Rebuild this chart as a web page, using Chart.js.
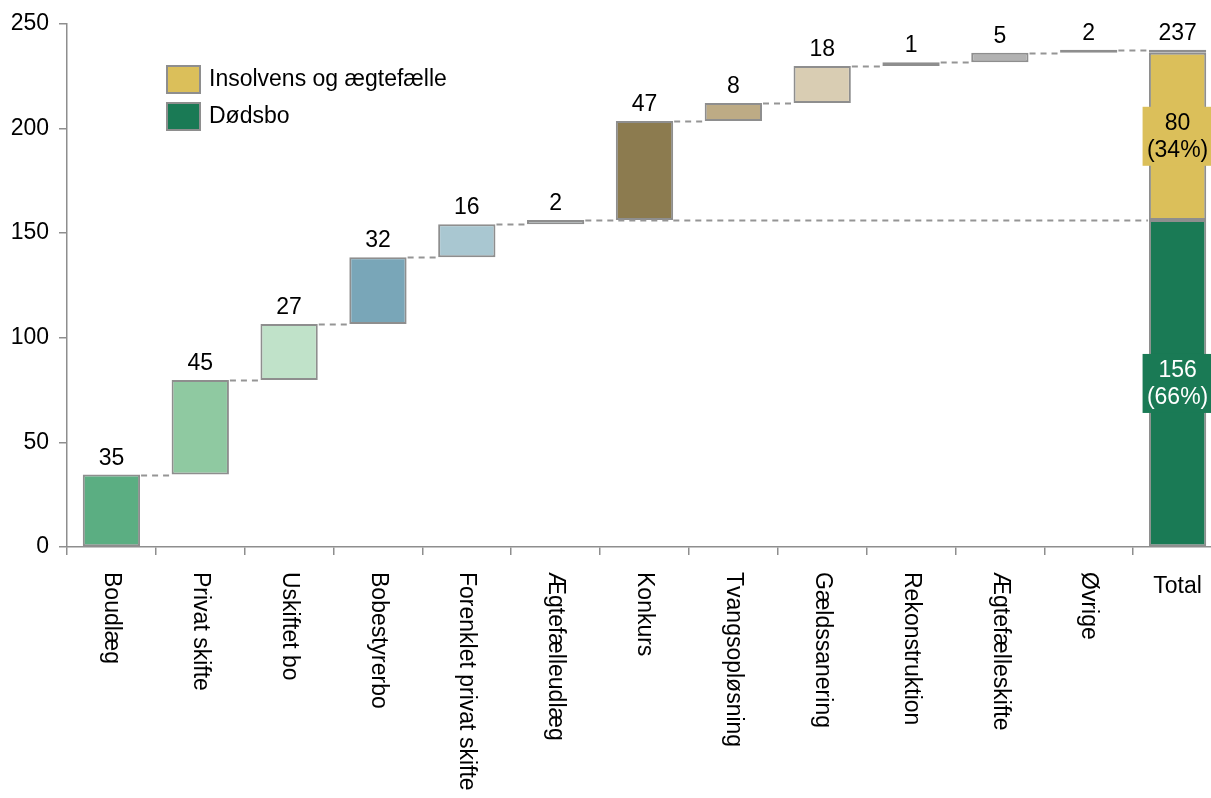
<!DOCTYPE html>
<html>
<head>
<meta charset="utf-8">
<script src="https://cdn.jsdelivr.net/npm/chart.js@4.4.0/dist/chart.umd.min.js"></script>
<style>
  html, body { margin: 0; padding: 0; background: #fff; overflow: hidden; }
  #wrap { width: 1222px; height: 798px; position: relative; }
</style>
</head>
<body>
<div id="wrap"><canvas id="chart"></canvas></div>
<script>
const categories = ['Boudlæg', 'Privat skifte', 'Uskiftet bo', 'Bobestyrerbo', 'Forenklet privat skifte',
  'Ægtefælleudlæg', 'Konkurs', 'Tvangsopløsning', 'Gældssanering', 'Rekonstruktion',
  'Ægtefælleskifte', 'Øvrige', 'Total'];

// floating bars of the waterfall (start / end)
const barStart = [0, 34.6, 79.8, 106.6, 138.4, 154.2, 156.3, 203.5, 212.1, 229.8, 231.6, 236.2];
const barEnd = [34.6, 79.8, 106.6, 138.4, 154.2, 156.3, 203.5, 212.1, 229.8, 231.6, 236.2, 237.6];
const valueLabels = ['35', '45', '27', '32', '16', '2', '47', '8', '18', '1', '5', '2', '237'];

const barColors = ['#5bae82', '#8fc9a1', '#c0e2c9', '#79a6b8', '#a9c7d1', '#d3e1e8',
  '#8c7b4f', '#bdab85', '#d9cdb3', '#7f7f7f', '#b2b2b2', '#ffffff'];

// total column
const dodsboTotal = [0, 156.3];
const insolvensTotal = [156.3, 236.2];
const ovrigeTotal = [236.2, 237.6];
const dodsboLabel = ['156', '(66%)'];
const insolvensLabel = ['80', '(34%)'];

const longLinkIndex = 5; // Ægtefælleudlæg links straight across to the total

const FONT = '"Liberation Sans", Arial, sans-serif';
const EDGE = '#8e8e8e';

function onlyTotal(range) {
  return categories.map((c, i) => (i === categories.length - 1 ? range : null));
}

const extras = {
  id: 'extras',
  afterDatasetsDraw(chart) {
    const { ctx, scales: { y } } = chart;
    const steps = chart.getDatasetMeta(0).data;
    const total = chart.getDatasetMeta(1).data[categories.length - 1];

    // dashed connectors
    ctx.save();
    ctx.strokeStyle = '#959595';
    ctx.lineWidth = 1.8;
    ctx.setLineDash([6, 5]);
    for (let i = 0; i < barEnd.length; i++) {
      const from = steps[i];
      const to = (i === longLinkIndex || i === barEnd.length - 1) ? total : steps[i + 1];
      const py = Math.round(y.getPixelForValue(barEnd[i])) + 0.5;
      ctx.beginPath();
      ctx.moveTo(from.x + from.width / 2 + 1, py);
      ctx.lineTo(to.x - to.width / 2 - 1, py);
      ctx.stroke();
    }
    ctx.restore();

    // value labels above bars
    ctx.save();
    ctx.font = '23px ' + FONT;
    ctx.fillStyle = '#000';
    ctx.textAlign = 'center';
    ctx.textBaseline = 'alphabetic';
    for (let i = 0; i < barEnd.length; i++) {
      ctx.fillText(valueLabels[i], steps[i].x, y.getPixelForValue(barEnd[i]) - 10);
    }
    ctx.fillText(valueLabels[categories.length - 1], total.x, y.getPixelForValue(ovrigeTotal[1]) - 10);

    // boxed labels inside the total column
    const boxes = [
      { range: dodsboTotal, lines: dodsboLabel, bg: '#1a7a55', fg: '#ffffff' },
      { range: insolvensTotal, lines: insolvensLabel, bg: '#dbbf5a', fg: '#000000' }
    ];
    boxes.forEach(b => {
      const cy = (y.getPixelForValue(b.range[0]) + y.getPixelForValue(b.range[1])) / 2;
      ctx.fillStyle = b.bg;
      ctx.fillRect(total.x - 35, cy - 29.5, 70, 59);
      ctx.fillStyle = b.fg;
      ctx.textBaseline = 'middle';
      ctx.fillText(b.lines[0], total.x, cy - 13);
      ctx.fillText(b.lines[1], total.x, cy + 14);
    });
    ctx.restore();
  },
  afterDraw(chart) {
    const { ctx, scales: { x }, chartArea } = chart;
    ctx.save();
    ctx.font = '23px ' + FONT;
    ctx.fillStyle = '#000';

    // category labels: rotated clockwise, the total stays horizontal
    categories.forEach((c, i) => {
      const px = x.getPixelForValue(i);
      if (i === categories.length - 1) {
        ctx.textAlign = 'center';
        ctx.textBaseline = 'alphabetic';
        ctx.fillText(c, px, chartArea.bottom + 46);
      } else {
        ctx.save();
        ctx.translate(px, chartArea.bottom + 25);
        ctx.rotate(Math.PI / 2);
        ctx.textAlign = 'left';
        ctx.textBaseline = 'middle';
        ctx.fillText(c, 0, 0);
        ctx.restore();
      }
    });

    // legend
    const items = [chart.data.datasets[2], chart.data.datasets[1]];
    items.forEach((ds, k) => {
      const top = 66 + k * 37;
      ctx.fillStyle = ds.backgroundColor;
      ctx.fillRect(167, top, 33, 27);
      ctx.strokeStyle = EDGE;
      ctx.lineWidth = 2;
      ctx.strokeRect(167, top, 33, 27);
      ctx.fillStyle = '#000';
      ctx.textAlign = 'left';
      ctx.textBaseline = 'middle';
      ctx.fillText(ds.label, 209, top + 14);
    });
    ctx.restore();
  }
};

new Chart(document.getElementById('chart'), {
  type: 'bar',
  data: {
    labels: categories,
    datasets: [
      {
        label: 'Trin',
        data: barStart.map((s, i) => [s, barEnd[i]]),
        backgroundColor: barColors,
        borderColor: EDGE,
        borderWidth: 2,
        borderSkipped: false
      },
      {
        label: 'Dødsbo',
        data: onlyTotal(dodsboTotal),
        backgroundColor: '#1a7a55',
        borderColor: EDGE,
        borderWidth: 2,
        borderSkipped: false
      },
      {
        label: 'Insolvens og ægtefælle',
        data: onlyTotal(insolvensTotal),
        backgroundColor: '#dbbf5a',
        borderColor: EDGE,
        borderWidth: 2,
        borderSkipped: false
      },
      {
        label: 'Øvrige',
        data: onlyTotal(ovrigeTotal),
        backgroundColor: '#ffffff',
        borderColor: EDGE,
        borderWidth: 2,
        borderSkipped: false
      }
    ]
  },
  options: {
    responsive: true,
    maintainAspectRatio: false,
    animation: false,
    grouped: false,
    barPercentage: 0.645,
    categoryPercentage: 1,
    layout: { padding: { top: 22, left: 0, right: 0, bottom: 0 } },
    plugins: {
      legend: { display: false },
      tooltip: { enabled: false }
    },
    scales: {
      x: {
        ticks: { display: false },
        grid: { drawOnChartArea: false, tickLength: 8, color: EDGE, lineWidth: 1.5 },
        border: { color: EDGE, width: 1.5 },
        afterFit(scale) { scale.height = 251; }
      },
      y: {
        min: 0,
        max: 250,
        ticks: { stepSize: 50, color: '#000', padding: 10, font: { size: 23, family: FONT } },
        grid: { drawOnChartArea: false, tickLength: 8, color: EDGE, lineWidth: 1.5 },
        border: { color: EDGE, width: 1.5 },
        afterFit(scale) { scale.width = 67; }
      }
    }
  },
  plugins: [extras]
});
</script>
</body>
</html>
